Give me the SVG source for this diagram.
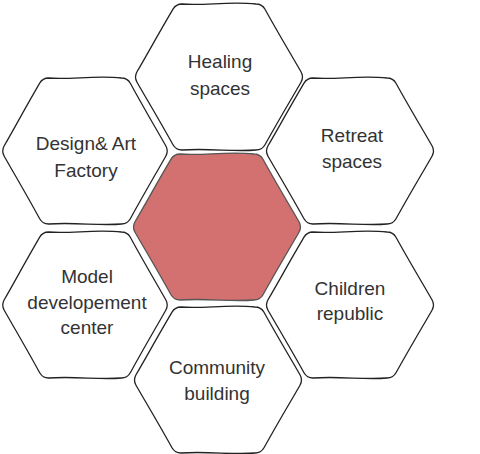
<svg xmlns="http://www.w3.org/2000/svg" xmlns:xlink="http://www.w3.org/1999/xlink" width="480" height="454" viewBox="0 0 480 454">
<style>
.hex{fill:#ffffff;stroke:#222222;stroke-width:1.3;stroke-linejoin:round}
.hub{fill:#D37070;stroke:#555555;stroke-width:1.3;stroke-linejoin:round}
.lbl{font-family:"Liberation Sans","DejaVu Sans",sans-serif;font-size:19px;fill:#333333;text-anchor:middle}
</style>
<defs>
<path id="hx" d="M-82,-5.2 C-70,-26 -60,-44 -46,-67.8 Q-43,-73 -37,-73 C-15,-71 10,-76 37,-73 Q43,-73 46,-67.8 C58,-46 70,-26 82,-5.2 Q85,0 82,5.2 C70,26 58,46 46,67.8 Q43,73 37,73 C15,75 -10,71 -37,73 Q-43,73 -46,67.8 C-58,46 -70,26 -82,5.2 Q-85,0 -82,-5.2 Z"/>
</defs>
<g id="connectors"></g>
<g id="hub">
<use xlink:href="#hx" class="hub" transform="translate(217,227)"/>
</g>
<g id="healing">
<use xlink:href="#hx" class="hex" transform="translate(219,77)"/>
<text class="lbl" x="220" y="68">Healing</text>
<text class="lbl" x="220" y="95">spaces</text>
</g>
<g id="design">
<use xlink:href="#hx" class="hex" transform="translate(85,151) scale(0.985,1)"/>
<text class="lbl" x="86" y="150">Design&amp; Art</text>
<text class="lbl" x="86" y="177">Factory</text>
</g>
<g id="retreat">
<use xlink:href="#hx" class="hex" transform="translate(350,151)"/>
<text class="lbl" x="352" y="142">Retreat</text>
<text class="lbl" x="352" y="168">spaces</text>
</g>
<g id="model">
<use xlink:href="#hx" class="hex" transform="translate(85,305) scale(0.985,1)"/>
<text class="lbl" x="87" y="283">Model</text>
<text class="lbl" x="87" y="309">developement</text>
<text class="lbl" x="87" y="334">center</text>
</g>
<g id="children">
<use xlink:href="#hx" class="hex" transform="translate(350,305)"/>
<text class="lbl" x="350" y="295">Children</text>
<text class="lbl" x="350" y="320">republic</text>
</g>
<g id="community">
<use xlink:href="#hx" class="hex" transform="translate(218,380)"/>
<text class="lbl" x="217" y="374">Community</text>
<text class="lbl" x="217" y="400">building</text>
</g>
</svg>
